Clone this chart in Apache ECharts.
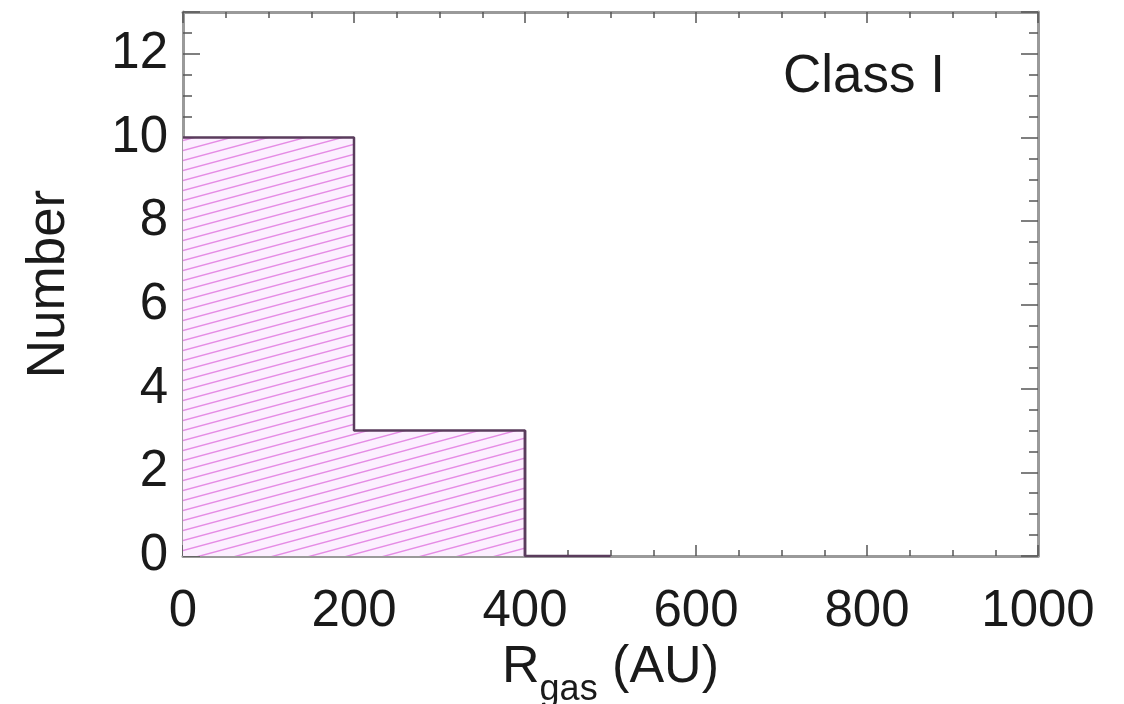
<!DOCTYPE html>
<html>
<head>
<meta charset="utf-8">
<title>Class I</title>
<script src="https://cdn.jsdelivr.net/npm/echarts@6/dist/echarts.min.js"></script>
<style>
  html, body { margin: 0; padding: 0; background: #fff; }
  #chart { width: 1124px; height: 704px; }
</style>
</head>
<body>
<div id="chart"></div>
<script>
// histogram bins (AU) and counts
var binEdges = [0, 200, 400, 500]
var counts = [10, 3, 0]
var xTicks = [0, 200, 400, 600, 800, 1000]
var yTicks = [0, 2, 4, 6, 8, 10, 12]

// step outline built from the bins
var steps = []
for (var i = 0; i < counts.length; i++) {
  steps.push([binEdges[i], counts[i]])
  steps.push([binEdges[i + 1], counts[i]])
}

// vertical edge of the last non-empty bin down to zero
var drops = []
for (var j = 0; j < counts.length; j++) {
  if (counts[j] > 0 && (j === counts.length - 1 || counts[j + 1] === 0)) {
    drops.push([binEdges[j + 1], counts[j]], [binEdges[j + 1], 0])
  }
}

// hatch pattern for the filled area (shallow lines rising to the right)
function hatch() {
  var c = document.createElement('canvas')
  var w = 37, h = 10
  c.width = w
  c.height = h
  var ctx = c.getContext('2d')
  ctx.fillStyle = '#fcefff'
  ctx.fillRect(0, 0, w, h)
  ctx.strokeStyle = '#e58ce5'
  ctx.lineWidth = 1.4
  for (var k = -1; k <= 1; k++) {
    ctx.beginPath()
    ctx.moveTo(0, h + k * h)
    ctx.lineTo(w, k * h)
    ctx.stroke()
  }
  return c
}

var font = '"Liberation Sans", Arial, sans-serif'
var frameColor = '#9a9a9a'
var tickColor = '#555'
var textColor = '#1a1a1a'

function axisBase(extra) {
  var a = {
    type: 'value',
    axisLine: { show: true, onZero: false, lineStyle: { color: frameColor, width: 3 } },
    splitLine: { show: false }
  }
  for (var k in extra) a[k] = extra[k]
  return a
}

function ticks(len, minorLen) {
  return {
    axisTick: { show: true, inside: true, length: len, lineStyle: { color: tickColor, width: 1.5 } },
    minorTick: { show: true, splitNumber: 4, length: minorLen, lineStyle: { color: tickColor, width: 1.5 } }
  }
}

function merge(a, b) {
  for (var k in b) a[k] = b[k]
  return a
}

var chart = echarts.init(document.getElementById('chart'))
var option = {
  backgroundColor: '#fff',
  animation: false,
  grid: { left: 183, right: 86, top: 12, bottom: 148, outerBoundsMode: 'none', containLabel: false },
  xAxis: [
    axisBase(merge({
      min: 0, max: 1000, interval: 200, position: 'bottom',
      axisLabel: {
        margin: 30, fontSize: 51, color: textColor, fontFamily: font,
        formatter: function (v) { return xTicks.indexOf(v) >= 0 ? String(v) : '' }
      },
      name: '{r|R}{s|gas}{r| (AU)}',
      nameLocation: 'middle',
      nameGap: 77,
      nameTextStyle: {
        fontFamily: font, color: textColor,
        rich: {
          r: { fontSize: 52, fontFamily: font, color: textColor, verticalAlign: 'top', lineHeight: 66 },
          s: { fontSize: 36, fontFamily: font, color: textColor, verticalAlign: 'bottom', lineHeight: 40 }
        }
      }
    }, ticks(11, 6))),
    axisBase(merge({
      min: 0, max: 1000, interval: 200, position: 'top',
      axisLabel: { show: false }
    }, ticks(11, 6)))
  ],
  yAxis: [
    axisBase(merge({
      min: 0, max: 13, interval: 2, position: 'left',
      axisLabel: {
        margin: 15, fontSize: 51, color: textColor, fontFamily: font,
        formatter: function (v) { return yTicks.indexOf(v) >= 0 ? String(v) : '' }
      },
      name: 'Number',
      nameLocation: 'middle',
      nameGap: 107,
      nameRotate: 90,
      nameTextStyle: { fontSize: 53, color: textColor, fontFamily: font }
    }, ticks(17, 9))),
    axisBase(merge({
      min: 0, max: 13, interval: 2, position: 'right',
      axisLabel: { show: false }
    }, ticks(17, 9)))
  ],
  graphic: [{
    type: 'text',
    right: 179,
    top: 51,
    style: { text: 'Class I', fontSize: 53, fontFamily: font, fill: textColor }
  }],
  series: [{
    type: 'line',
    data: steps,
    symbol: 'none',
    lineStyle: { color: '#5a3c5c', width: 2.5 },
    areaStyle: { color: { image: hatch(), repeat: 'repeat' }, opacity: 1 },
    z: 3
  }, {
    type: 'line',
    data: drops,
    symbol: 'none',
    lineStyle: { color: '#5a3c5c', width: 2.5 },
    z: 4
  }]
}
chart.setOption(option)
</script>
</body>
</html>
